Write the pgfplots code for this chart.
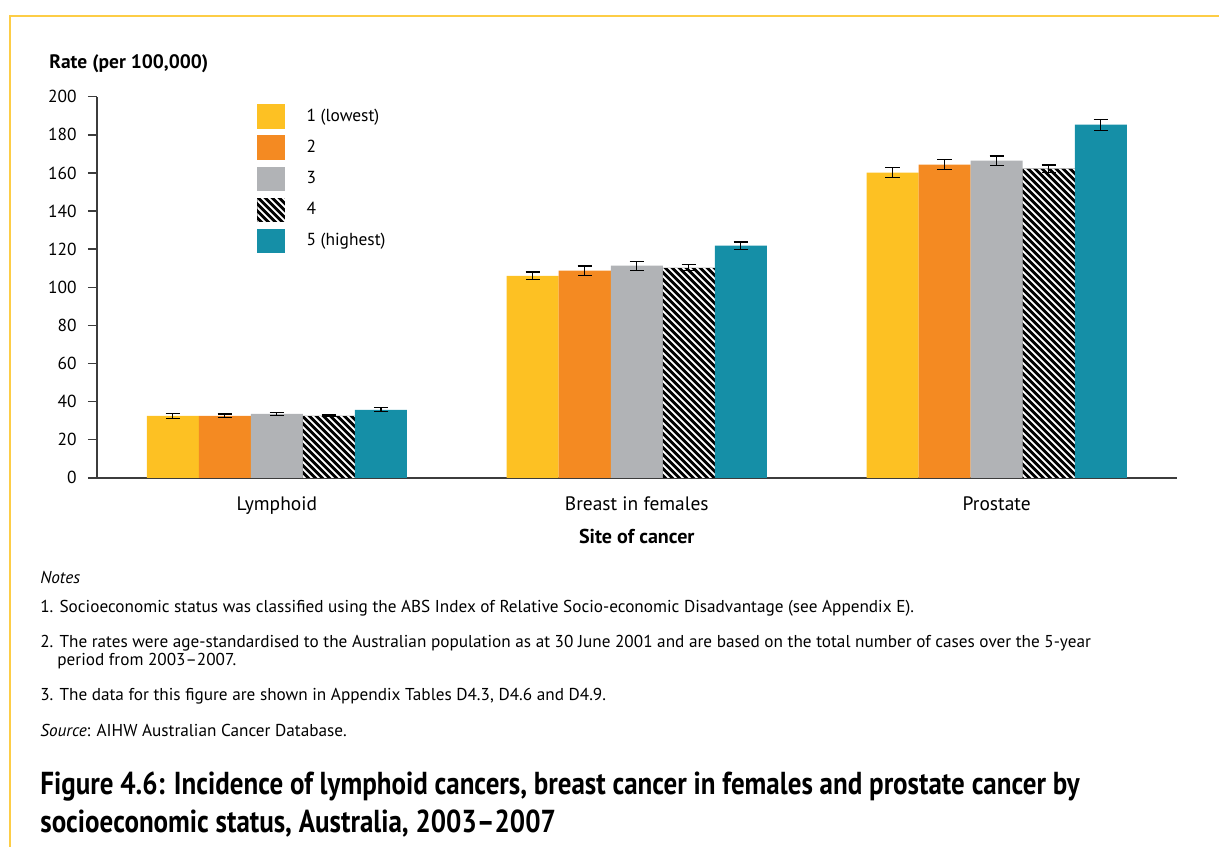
\documentclass[border=0pt]{standalone}
\usepackage{fontspec}
\setmainfont{PT Sans}
\usepackage{pgfplots}
\pgfplotsset{compat=1.18}
\usetikzlibrary{patterns}

\definecolor{q1}{RGB}{253,193,35}
\definecolor{q2}{RGB}{244,138,34}
\definecolor{q3}{RGB}{177,179,182}
\definecolor{q5}{RGB}{21,143,167}
\definecolor{framecol}{RGB}{253,205,70}
\definecolor{axisgray}{RGB}{60,60,60}

% white diagonal stripes, drawn over a black fill
\pgfdeclarepatternformonly{wstripes}{\pgfqpoint{0pt}{0pt}}{\pgfqpoint{3.4pt}{3.4pt}}{\pgfqpoint{3.4pt}{3.4pt}}{
  \pgfsetlinewidth{0.85pt}
  \pgfpathmoveto{\pgfqpoint{-1pt}{4.4pt}}\pgfpathlineto{\pgfqpoint{4.4pt}{-1pt}}
  \pgfpathmoveto{\pgfqpoint{-1pt}{1pt}}\pgfpathlineto{\pgfqpoint{1pt}{-1pt}}
  \pgfpathmoveto{\pgfqpoint{2.4pt}{4.4pt}}\pgfpathlineto{\pgfqpoint{4.4pt}{2.4pt}}
  \pgfusepath{stroke}}

\begin{document}
\begin{tikzpicture}
\path (-47.3pt,-180pt) rectangle (547.8pt,233.2pt);
\draw[framecol, line width=0.7pt] (-42.4pt,-180pt) -- (-42.4pt,225.4pt) -- (547.8pt,225.4pt);

\begin{axis}[
  at={(0pt,0pt)}, anchor=south west,
  scale only axis, width=527pt, height=186pt,
  xmin=-0.5, xmax=2.5, ymin=0, ymax=200,
  ybar=0pt, bar width=25.4pt,
  axis x line*=bottom, axis y line*=left,
  x axis line style={-, line width=1pt, color=axisgray},
  y axis line style={-, line width=0.7pt, color=axisgray},
  xtick={0,1,2}, xticklabels={Lymphoid,Breast in females,Prostate},
  x tick style={draw=none},
  ytick={0,20,...,200},
  tick align=outside, major tick length=4.4pt,
  y tick style={line width=0.7pt, color=axisgray},
  yticklabel style={font=\fontsize{8.5}{10}\selectfont, xshift=-2pt},
  xticklabel style={font=\fontsize{9.5}{11}\selectfont, yshift=-1.5pt},
  /pgf/number format/assume math mode=true,
  xlabel={\textbf{Site of cancer}},
  xlabel style={font=\fontsize{9.8}{11}\selectfont},
  error bars/y dir=both, error bars/y explicit,
  error bars/error bar style={draw=black, line width=0.6pt},
  error bars/error mark options={draw=black, rotate=90, mark size=3.5pt, line width=0.6pt},
  legend style={at={(axis description cs:0.1425,0.992)}, anchor=north west,
    draw=none, fill=none, font=\fontsize{8.5}{10}\selectfont, row sep=3.2pt,
    /tikz/every odd column/.append style={column sep=8.3pt}},
  legend cell align=left,
  legend image code/.code={\path[#1,draw=none] (0pt,-6pt) rectangle (13.7pt,6pt);},
]
\addplot[fill=q1, draw=none] coordinates {(0,32.5) +- (0,1.2) (1,106.0) +- (0,2.0) (2,160.1) +- (0,2.6)};
\addlegendentry{1 (lowest)}
\addplot[fill=q2, draw=none] coordinates {(0,32.5) +- (0,1.0) (1,108.7) +- (0,2.4) (2,164.3) +- (0,2.6)};
\addlegendentry{2}
\addplot[fill=q3, draw=none] coordinates {(0,33.6) +- (0,0.8) (1,111.3) +- (0,2.4) (2,166.4) +- (0,2.5)};
\addlegendentry{3}
\addplot[fill=black, draw=none, postaction={pattern=wstripes, pattern color=white}] coordinates {(0,32.5) +- (0,0.5) (1,110.2) +- (0,1.6) (2,162.2) +- (0,2.0)};
\addlegendentry{4}
\addplot[fill=q5, draw=none] coordinates {(0,35.7) +- (0,1.1) (1,121.8) +- (0,2.0) (2,185.3) +- (0,2.9)};
\addlegendentry{5 (highest)}
\end{axis}

\node[anchor=west, inner sep=0pt, font=\fontsize{9.5}{11}\selectfont\bfseries] at (-23.4pt,202pt) {Rate (per 100,000)};

\begin{scope}[every node/.style={anchor=west, inner sep=0pt, font=\fontsize{8.4}{10}\selectfont}]
\node at (-27.8pt,-48.8pt) {\textit{Notes}};
\node at (-27.8pt,-63.6pt) {1. Socioeconomic status was classified using the ABS Index of Relative Socio-economic Disadvantage (see Appendix E).};
\node at (-27.8pt,-80.7pt) {2. The rates were age-standardised to the Australian population as at 30 June 2001 and are based on the total number of cases over the 5-year};
\node at (-19.5pt,-89.5pt) {period from 2003--2007.};
\node at (-27.8pt,-106.6pt) {3. The data for this figure are shown in Appendix Tables D4.3, D4.6 and D4.9.};
\node at (-27.8pt,-123.1pt) {\textit{Source}: AIHW Australian Cancer Database.};
\end{scope}

\begin{scope}[every node/.style={anchor=west, inner sep=0pt}]
\node at (-27.8pt,-150.8pt) {\scalebox{0.85}[1]{\fontsize{15.5}{18}\selectfont\bfseries Figure 4.6: Incidence of lymphoid cancers, breast cancer in females and prostate cancer by}};
\node at (-27.8pt,-168.5pt) {\scalebox{0.85}[1]{\fontsize{15.5}{18}\selectfont\bfseries socioeconomic status, Australia, 2003--2007}};
\end{scope}
\end{tikzpicture}
\end{document}
